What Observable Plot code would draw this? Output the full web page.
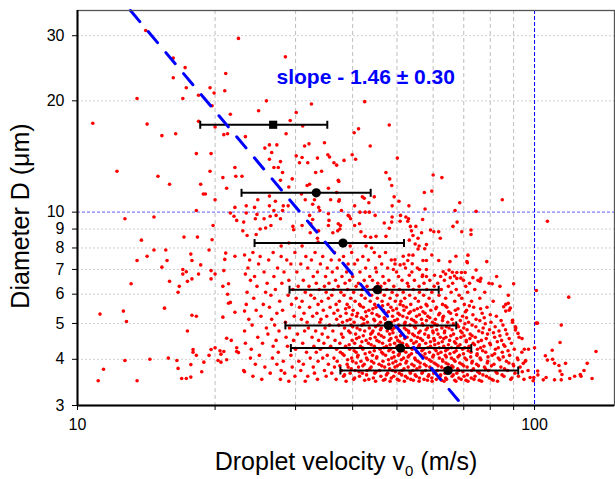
<!DOCTYPE html>
<html><head><meta charset="utf-8">
<script src="https://cdn.jsdelivr.net/npm/d3@7"></script>
<script src="https://cdn.jsdelivr.net/npm/@observablehq/plot@0.6"></script>
<style>
body{margin:0;background:#fff;}
#chart svg{display:block;}
</style></head><body><div id="chart"></div>
<script>
// Individually read droplets [velocity m/s, diameter µm]
const sparseDrops = [
[14.1,31],[22.5,29.5],[28.5,26.3],[16.2,26.1],[17.2,24.6],[21.1,23.7],[16.2,23.1],[19.5,21.7],[17.3,21.7],[21.0,21.3],[19.9,21.0],[18.4,20.7],[17.0,20.3],[13.5,20.3],[106.7,9.45],
[10.8,17.4],[14.2,17.3],[15.3,16.1],[16.4,16.3],[18.4,17.6],[19.7,19.4],[21.6,18.4],[20.0,17.0],[20.9,16.2],[21.3,16.3],[23.3,16.0],[18.2,14.4],[19.6,14.4],[12.2,12.9],[15.0,12.5],[15.9,11.9],[19.5,12.9],[18.6,11.9],[18.85,11.2],[19.05,11.2],
[20.0,10.8],[22.1,13.2],[22.2,12.5],[22.9,12.5],[20.8,12.4],[21.2,11.6],[22.1,10.3],[21.6,9.95],[22.0,9.75],[22.3,9.5],[23.1,9.4],[23.4,9.95],[23.0,8.9],[23.5,8.65],[18.2,10.1],[12.7,9.6],[14.7,9.7],[19.8,9.2],[13.8,8.4],[17.1,8.56],[18.3,8.56],[19.7,8.42],[14.7,7.9],[15.6,7.9],[19.4,7.9],
[13.5,7.4],[14.2,7.6],[15.3,7.1],[15.7,7.4],[17.7,7.7],[17.8,7.4],[17.0,7.0],[17.3,6.9],[17.0,6.8],[18.6,7.2],[18.4,6.8],[17.8,6.6],[17.4,6.5],[19.6,6.95],[20.0,6.8],[19.6,6.6],[20.9,6.95],[21.0,7.45],[21.1,7.75],[22.1,7.6],[23.2,7.66],[23.3,6.8],[15.9,6.5],[16.7,6.3],[16.6,6.07],[13.1,6.4],[20.8,6.3],[21.4,6.4],[21.3,6.0],[21.6,5.7],[21.4,5.67],[11.2,5.3],[12.6,5.4],[12.8,5.06],[15.5,5.5],[17.8,5.26],[18.2,5.23],[20.8,5.2],[22.1,5.36],[23.2,5.4],[17.4,4.77],[21.2,4.56],[21.7,4.5],[22.3,4.3],[22.3,4.2],[22.5,4.17],[20.0,4.3],[19.6,4.25],[20.5,4.22],[20.9,4.2],[20.6,4.13],[17.9,4.25],[17.9,4.18],[18.2,4.1],[19.4,4.1],[15.8,4.03],[14.4,4.0],[16.5,3.97],[12.7,3.97],[20.3,3.97],[20.6,3.93],[21.2,3.99],[17.7,3.87],[18.9,3.93],[16.6,3.78],[18.7,3.7],[23.2,3.7],[11.4,3.76],[11.1,3.5],[13.5,3.5],[16.9,3.55],[17.3,3.55],[17.7,3.58],
[25.9,20.0],[32.5,19.6],[42.5,19.9],[24.9,18.8],[30.1,18.6],[29.2,17.7],[31.1,17.1],[28.6,16.3],[41.2,16.8],[40.3,16.4],[48.1,17.2],[25.7,14.9],[26.3,15.2],[27.3,15.2],[26.6,14.5],[31.4,15.1],[32.1,15.3],[34.7,15.4],[35.3,14.3],[35.6,14.1],[30.1,14.2],[31.0,14.05],[31.9,13.6],[30.6,13.6],[26.3,13.9],[27.8,13.7],[33.5,14.0],[36.4,13.6],[36.9,13.4],[38.3,13.8],[39.9,14.3],[40.6,13.9],[43.7,15.1],[27.5,13.2],[28.1,12.8],[26.9,13.2],[33.2,12.8],[34.2,12.9],[47.3,12.8],
[27.8,12.2],[29.5,12.3],[29.0,11.7],[32.2,11.9],[31.8,11.8],[30.9,11.2],[37.2,12.2],[37.3,12.1],[48.2,12.3],[48.7,11.8],[35.4,11.6],[36.9,11.3],[35.8,10.8],[37.4,10.8],[42.4,10.9],[44.6,11.0],[43.4,10.6],[42.0,11.0],[24.8,10.8],[23.4,10.4],[24.4,10.3],[26.3,11.05],[27.1,10.7],[26.3,10.4],[31.5,10.8],[33.0,10.8],[32.7,10.5],[28.2,10.4],[28.9,10.4],[33.7,10.3],[33.9,10.1],[37.3,10.7],[37.8,10.1],[39.3,9.75],[40.4,10.4],[41.5,10.0],[42.6,10.0],[43.5,10.0],[44.8,9.8],[24.7,9.86],[26.9,10.1],[28.1,10.1],[24.5,9.6],[25.6,9.6],[26.4,9.75],[27.2,9.8],[27.8,9.6],[25.1,9.0],[25.8,9.06],[26.5,9.2],[29.6,9.15],[29.7,8.96],[31.0,9.2],[32.2,9.8],[32.7,9.55],[32.4,9.3],[32.3,8.8],[33.7,8.9],[33.5,8.5],[33.6,8.3],[35.4,9.9],[35.5,9.5],[35.4,9.2],[37.2,9.3],[37.6,9.2],[37.5,9.0],[37.1,8.9],[39.1,9.8],[39.6,9.6],[40.4,9.2],[46.9,9.35],[48.1,9.05],[24.6,8.7],[27.9,8.1],[29.0,8.25],[31.0,8.1],[42.6,8.6],[43.8,8.55],[45.0,8.6],[47.3,8.6],[42.8,8.1],[44.0,8.0],[41.7,8.85],[41.4,9.3],[36.2,8.8],[39.5,8.1],
[50.1,14.0],[60.0,12.6],[62.7,12.4],[57.4,11.3],[59.6,11.4],[49.3,11.0],[50.5,10.7],[48.8,10.4],[53.1,10.4],[57.6,10.2],[68.6,10.6],[85.0,10.8],[67.0,10.1],[74.5,10.05],[50.9,9.8],[52.3,9.7],[50.8,9.45],[53.0,9.6],[52.8,9.45],[56.9,9.55],[67.7,9.4],[66.3,9.15],[48.8,9.7],[48.7,9.4],[53.5,9.15],[55.0,9.15],[53.8,8.9],[56.6,8.8],[59.2,8.95],[60.2,8.85],[61.7,8.85],[62.2,8.5],[69.3,8.85],[72.6,8.95],[72.6,8.7],[54.2,8.65],[53.2,8.4],[55.6,8.5],[54.8,8.2],[55.9,8.1],[55.6,7.95],[57.5,7.96],[58.0,8.17],[51.6,7.6],[53.1,7.66],[54.2,7.65],[49.5,7.43],[52.8,7.4],[54.0,7.25],[59.6,7.66],[58.0,7.4],[57.0,7.4],[61.7,7.4],[65.3,7.35],[67.3,7.6],[71.5,7.65],[71.1,7.35],[71.3,7.3],[78.6,7.35],[74.5,6.97],[49.1,7.0],[50.8,7.2],[56.0,7.0],[58.0,7.0],[63.1,6.9],[65.0,6.97],[66.1,6.88],[67.6,6.87],[69.2,6.87],[70.5,6.87],[82.6,6.7],[53.2,6.75],[56.9,6.76],[58.0,6.7],[60.4,6.75],[62.3,6.7],[63.9,6.8],[65.4,6.65],[66.8,6.72],[67.6,6.62],[69.0,6.63],[73.3,6.65],[76.3,6.62],
[118.8,5.89],[100.9,6.14],[100.9,5.01],[101.5,5.01],[114.4,4.95],[113.7,4.44],[136.3,4.2],[109.3,4.23],[105.6,4.09],[106.7,3.98],[109.5,4.0],[110.6,3.9],[113.1,3.85],[116.9,3.9],[130.4,3.9],[128.3,3.73],[125.9,3.64],[126.4,3.6],[122.4,3.6],[119.4,3.55],[133.6,3.55],[113.7,3.72],[114.8,3.64],[110.6,3.52],[114.4,3.52],[104.5,3.52],[106.0,3.57],[101.7,3.63],[101.6,3.72],[99.6,3.57],[99.3,3.5],[97.0,4.26],[95.0,4.26],[100.0,4.3],[95.6,3.97],[94.5,3.9],[97.8,3.57],[93.9,4.55],[92.0,4.7],[90.8,4.8],[89.5,5.1],[90.8,4.9],[90.0,6.4],[85.6,5.55],[86.5,5.4],[87.6,5.67],[88.5,5.5],[80.8,6.4],[76.0,6.5]
];

// Dense cloud, estimated row by row: diameter of each row and the velocities seen in it
const rowDiam = [7.78,7.59,7.42,7.24,7.06,6.89,6.70,6.54,6.42,6.30,6.18,6.07,5.96,5.85,5.74,5.63,5.53,5.43,5.33,5.23,5.13,5.04,4.95,4.86,4.77,4.68,4.59,4.50,4.42,4.34,4.26,4.18,4.10,4.03,3.95,3.88,3.81,3.73,3.67,3.60,3.53,3.49,
5.58,5.48,5.38,5.28,5.18,5.09,4.99,4.90,4.81,4.72,4.63,4.55,4.46,4.38,4.30,4.22,4.14,4.06,3.99,3.91,3.84,3.77,3.70,3.63,3.56,3.51];
const rowVel = [
[24.2,26.8,29.9,33.1,36.5,39.8,44.6,47.2],
[25.1,27.9,31.6,34.4,38.2,42.1,45.8],
[23.8,26.2,28.7,32.5,35.9,37.4,41.0,43.3,48.6],
[24.9,29.3,30.8,34.0,39.1,40.4,46.3,49.5,51.8],
[23.6,27.4,31.9,35.2,37.0,42.7,44.9,47.7,52.2,55.4],
[25.6,28.3,30.2,33.5,36.1,38.8,41.5,45.1,49.9,53.9],
[24.4,26.9,32.8,34.9,37.9,40.0,43.6,46.6,50.4,56.8],
[23.9,29.0,31.2,36.7,39.4,42.4,44.2,48.0,51.3,54.6,59.0,63.5,69.9,75.2],
[26.0,28.0,33.3,35.5,38.5,41.2,45.4,47.0,52.7,57.3,61.4,66.2,72.1,79.5],
[24.7,30.4,32.1,34.7,37.2,40.7,43.0,46.1,49.2,53.0,55.9,60.3,64.8,70.7,84.0],
[27.1,29.6,33.8,36.3,39.0,42.0,44.4,47.5,50.6,54.3,58.1,62.5,67.4,74.0],
[23.5,25.8,31.5,35.0,37.7,40.2,43.2,45.9,48.8,51.6,56.0,59.6,65.7,71.4,77.8],
[26.5,28.9,32.4,36.0,38.3,41.8,44.0,46.9,50.0,53.3,57.2,61.8,68.4,87.6],
[24.3,30.1,33.0,35.4,39.6,42.6,45.3,48.3,52.0,54.8,58.8,63.9,69.3,75.9],
[27.7,31.0,34.2,37.4,40.5,43.7,46.4,49.6,51.0,55.7,60.0,66.9,72.8,81.2],
[23.4,25.5,29.4,33.6,36.8,38.9,41.4,44.7,47.8,50.8,53.6,57.9,62.9,70.2,86.5],
[26.3,30.6,32.2,35.7,39.3,42.2,45.0,48.5,52.4,56.4,61.0,64.3,73.6,78.7],
[24.6,28.1,34.5,37.1,40.1,43.4,46.7,49.0,51.8,54.5,59.3,67.1,71.0,88.0],
[27.3,31.3,33.4,36.4,38.7,41.0,44.1,47.3,50.3,53.1,57.6,62.0,65.5,76.8],
[25.2,29.8,32.7,35.1,37.6,40.8,42.9,45.7,48.9,51.5,55.2,58.4,63.2,69.6,82.5],
[23.7,26.6,30.9,34.1,36.9,39.5,42.3,44.5,47.1,50.1,53.8,56.6,60.7,66.0,74.5],
[28.5,31.8,33.9,38.0,40.3,43.1,46.0,48.6,52.1,55.0,59.8,64.6,71.7,80.3,89.5],
[24.1,27.0,35.6,37.3,39.7,41.9,45.5,47.9,50.5,53.4,57.0,61.2,67.8,73.0,85.3],
[25.9,29.1,32.0,34.8,38.4,40.9,43.5,46.2,49.3,51.9,54.9,58.3,62.7,65.0,70.0,77.2,91.0],
[23.2,27.6,31.4,33.2,36.2,39.2,42.5,44.3,47.6,50.7,53.0,56.2,59.9,63.6,68.9,75.5,83.6],
[26.1,30.3,34.3,37.8,40.6,43.8,45.6,48.2,51.2,54.1,57.5,61.5,66.5,72.3,78.9,87.0],
[24.8,28.6,32.6,35.3,38.1,41.3,44.8,46.8,49.8,52.6,55.5,58.6,62.2,64.0,69.0,74.2,81.8,92.5],
[27.2,29.7,33.7,36.6,39.9,42.8,45.2,48.1,50.2,53.7,56.9,60.4,65.2,70.9,76.5,84.7],
[23.3,25.4,31.1,34.6,37.5,40.4,43.3,46.5,49.4,51.4,54.4,57.8,61.6,67.2,73.4,79.8,89.0],
[26.8,28.8,32.9,35.8,38.6,41.6,44.6,47.4,50.0,52.8,55.8,59.2,63.3,68.0,71.9,77.5,86.1],
[24.0,30.0,34.0,36.9,39.4,42.1,45.9,48.4,51.1,54.0,57.1,60.6,64.5,69.6,75.0,82.1,90.3],
[27.5,31.7,33.3,37.6,40.7,43.6,46.3,49.1,52.3,55.3,58.9,62.4,66.7,72.6,78.2,85.0,93.8],
[25.0,29.3,35.2,38.3,41.1,44.2,47.2,50.4,53.2,56.5,60.1,63.8,68.5,74.8,80.8,88.2],
[23.9,26.7,32.3,34.4,36.4,39.8,42.9,45.1,48.7,51.7,54.7,58.0,61.9,65.8,70.4,76.0,83.3,91.7],
[28.2,30.5,33.6,37.0,40.0,41.7,44.0,46.6,49.7,52.5,55.6,59.4,63.0,67.0,73.1,79.0,86.8,95.5],
[24.5,27.3,31.2,35.4,38.9,42.4,45.7,48.0,50.8,53.9,57.4,60.9,64.7,69.4,74.7,81.5,89.8],
[25.7,29.5,32.8,36.5,39.1,41.2,43.9,47.0,49.5,52.9,56.1,59.0,62.6,66.3,71.2,77.7,84.4,93.0],
[23.1,27.9,30.8,34.7,37.8,40.5,43.0,45.8,48.9,51.3,54.2,57.7,61.3,65.1,68.2,72.8,79.3,87.3,96.8],
[26.4,28.4,33.0,36.0,39.5,42.0,44.7,47.7,50.6,53.5,56.7,60.2,63.7,67.6,75.8,82.8,90.6],
[24.2,29.9,31.9,35.0,38.2,41.4,46.1,49.2,52.2,55.1,58.5,62.1,66.0,70.1,74.1,78.5,85.7,92.2],
[25.3,27.8,33.5,36.8,40.2,43.4,47.1,50.1,53.6,57.3,61.0,64.2,69.1,73.7,80.6,88.7,94.8],
[29.0,31.5,38.7,44.9,48.3,51.9,55.9,59.7,63.4,67.3,71.5,76.6,83.0],
[41.6,46.5,51.6,58.2,63.8,72.0],
[38.6,44.3,49.9,55.4,60.8,68.0,76.2],
[42.7,47.9,53.5,57.0,64.9,70.6],
[39.9,45.2,50.7,56.0,61.7,67.5,73.3,80.0],
[41.8,46.9,52.6,59.0,63.0,71.0,77.6],
[38.9,44.7,49.4,54.4,58.0,62.9,68.8,75.9,84.5],
[42.3,47.2,52.0,56.8,60.5,66.4,70.4,78.0],
[40.0,44.9,50.2,54.6,59.5,64.1,68.2,74.4,82.0],
[41.5,46.0,48.8,52.4,57.9,61.1,66.0,71.2,79.7,86.4],
[39.5,44.1,49.0,53.1,55.8,60.0,63.5,69.4,76.9,81.3],
[42.2,46.2,50.9,54.6,58.6,65.6,70.1,73.0,84.0],
[40.8,43.7,48.5,52.0,56.3,60.2,63.3,67.6,72.2,78.4,88.0],
[41.9,45.7,50.7,55.1,59.2,62.8,66.8,70.9,75.3,82.9],
[39.3,43.9,48.3,52.5,56.0,60.5,64.8,68.7,73.9,80.1,85.6],
[42.0,46.8,49.9,54.2,58.4,61.9,65.8,70.4,76.2,83.3],
[40.3,44.6,48.0,51.6,56.7,60.9,63.9,67.4,71.6,77.0,87.5],
[38.0,42.6,46.6,50.6,53.8,57.6,61.5,65.3,69.9,74.9,81.8],
[41.0,45.2,49.3,52.9,57.2,59.9,64.1,68.0,72.5,79.1,85.4],
[39.0,43.1,47.9,51.1,54.9,58.8,62.9,66.6,71.0,76.3,83.9,92.0],
[40.7,44.5,49.0,52.3,56.2,60.3,64.0,68.6,72.9,78.8,87.9],
[37.5,42.1,46.3,50.1,54.5,57.9,61.5,65.9,70.0,75.4,80.5,90.0],
[39.7,43.6,48.2,51.8,55.3,59.5,63.6,67.9,73.5,78.1,86.0],
[41.3,45.0,49.6,53.4,56.9,60.7,64.6,69.7,75.1,82.3,94.0],
[38.4,42.9,47.4,51.2,54.8,58.7,62.3,66.4,71.3,77.1,84.9],
[40.4,44.4,48.6,52.7,56.0,59.6,63.9,68.3,72.7,79.6,89.2],
[42.5,46.7,50.5,54.3,58.3,62.6,66.9,70.8,75.7,81.2]
];

// Binned means with velocity spread
const binDiam = [17.23, 11.28, 8.25, 6.17, 4.94, 4.29, 3.73];
const binVel  = [26.8, 33.3, 38.1, 45.3, 47.9, 50.9, 64.7];
const binLow  = [18.56, 22.85, 24.4, 29.1, 28.5, 29.3, 37.6];
const binHigh = [35.2, 43.8, 51.8, 61.7, 67.4, 72.7, 92.1];
const binShape = ["square","circle","circle","circle","circle","circle","circle"];

// Power-law fit line endpoints
const fitVel = [13.06, 69.6];
const fitDiam = [35.1, 3.0];
const fitNote = "slope - 1.46 ± 0.30";
const noteVel = [27.25];
const noteDiam = [23.2];

// Axes
const xTicks = [10,20,30,40,50,60,70,80,90,100];
const xTickLabels = ["10","","","","","","","","","100"];
const yTicks = [3,4,5,6,7,8,9,10,20,30];
const yTickLabels = ["3","4","5","6","7","8","9","10","20","30"];
const xGrid = [20,30,40,50,60,70,80,90];
const yGrid = [4,5,6,7,8,9,20,30];
const refVel = [100];
const refDiam = [10];
const xTitle = ["Droplet velocity v", "0", " (m/s)"];
const yTitle = "Diameter D (μm)";

// Build tables
const drops = sparseDrops.map(([v, D]) => ({v, D}))
  .concat(rowDiam.flatMap((D, i) => rowVel[i].map(v => ({v, D}))));
const bins = binDiam.map((D, i) => ({D, v: binVel[i], lo: binLow[i], hi: binHigh[i], shape: binShape[i]}));
const caps = bins.flatMap(b => [{v: b.lo, D: b.D}, {v: b.hi, D: b.D}]);
const fit = fitVel.map((v, i) => ({v, D: fitDiam[i]}));
const note = [{v: noteVel[0], D: noteDiam[0], t: fitNote}];
const xLab = new Map(xTicks.map((t, i) => [t, xTickLabels[i]]));
const yLab = new Map(yTicks.map((t, i) => [t, yTickLabels[i]]));
const capSymbol = {draw(ctx, size) { const h = Math.sqrt(size / Math.PI); ctx.moveTo(0, -h); ctx.lineTo(0, h); }};

const font = "'Liberation Sans', Arial, sans-serif";
const chart = Plot.plot({
  width: 615, height: 479,
  marginLeft: 77, marginRight: 1, marginTop: 10, marginBottom: 74,
  style: {fontFamily: font, fontSize: "16px", background: "#fff", color: "#000"},
  x: {type: "log", domain: [10, 149.6]},
  y: {type: "log", domain: [3, 35.1]},
  marks: [
    Plot.ruleX(xGrid, {stroke: "#bdbdbd", strokeWidth: 1, strokeDasharray: "4,3"}),
    Plot.ruleY(yGrid, {stroke: "#cfcfcf", strokeWidth: 1, strokeDasharray: "2,2"}),
    Plot.ruleY(refDiam, {stroke: "#7f7fff", strokeWidth: 1.3, strokeDasharray: "3,2"}),
    Plot.ruleX(refVel, {stroke: "#0000ff", strokeWidth: 1, strokeDasharray: "4,2"}),
    Plot.dot(drops, {x: "v", y: "D", r: 1.8, fill: "#ff0000"}),
    Plot.ruleY(bins, {y: "D", x1: "lo", x2: "hi", stroke: "#000", strokeWidth: 2}),
    Plot.dot(caps, {x: "v", y: "D", r: 4, symbol: capSymbol, stroke: "#000", strokeWidth: 2, fill: "none"}),
    Plot.dot(bins.filter(b => b.shape === "circle"), {x: "v", y: "D", r: 4.6, symbol: "circle", fill: "#000", stroke: "none"}),
    Plot.dot(bins.filter(b => b.shape === "square"), {x: "v", y: "D", r: 4.6, symbol: "square", fill: "#000", stroke: "none"}),
    Plot.line(fit, {x: "v", y: "D", stroke: "#0000ff", strokeWidth: 3, strokeDasharray: "14.5,13"}),
    Plot.text(note, {x: "v", y: "D", text: "t", textAnchor: "start", fill: "#0000ff", fontWeight: "bold", fontSize: 21}),
    Plot.frame({stroke: "#555", strokeWidth: 1.3}),
    Plot.ruleX([10], {stroke: "#000", strokeWidth: 2}),
    Plot.ruleY([3], {stroke: "#000", strokeWidth: 2}),
    Plot.axisX({ticks: xTicks, tickFormat: d => xLab.get(d), tickSize: 5, tickPadding: 8, label: null}),
    Plot.axisY({ticks: yTicks, tickFormat: d => yLab.get(d), tickSize: 5, tickPadding: 8, label: null})
  ]
});
document.getElementById("chart").appendChild(chart);

const svg = d3.select(chart);
svg.append("text")
  .attr("transform", "translate(29,216) rotate(-90)")
  .attr("text-anchor", "middle")
  .style("font-family", font).style("font-size", "25px").attr("fill", "#000")
  .text(yTitle);
const xt = svg.append("text")
  .attr("x", 346).attr("y", 470)
  .attr("text-anchor", "middle")
  .style("font-family", font).style("font-size", "25px").attr("fill", "#000");
xt.append("tspan").text(xTitle[0]);
xt.append("tspan").attr("dy", 6).style("font-size", "15px").text(xTitle[1]);
xt.append("tspan").attr("dy", -6).text(xTitle[2]);
</script>
</body></html>
